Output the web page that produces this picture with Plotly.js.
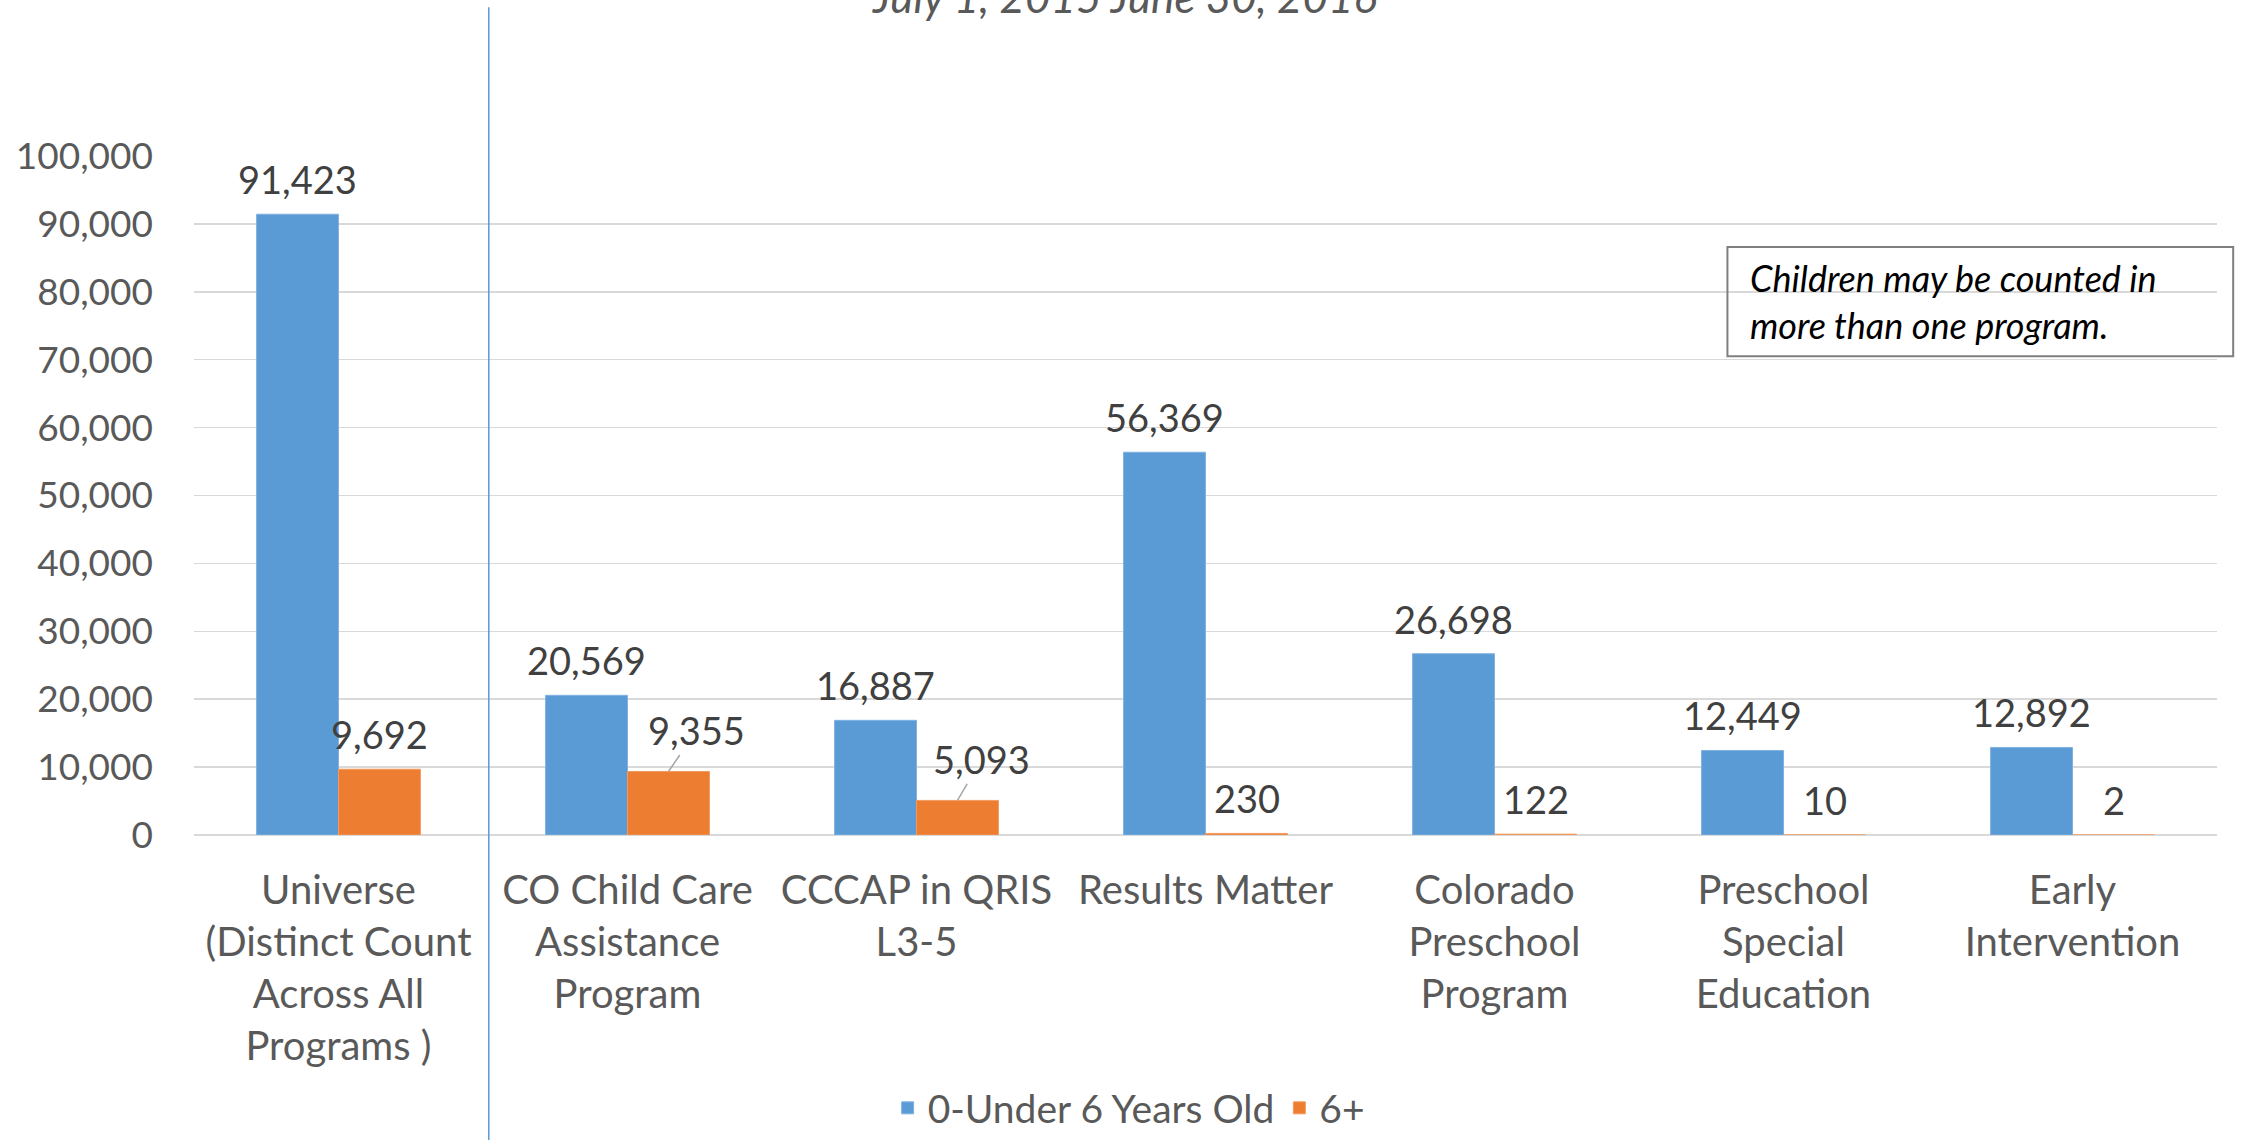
<!DOCTYPE html>
<html>
<head>
<meta charset="utf-8">
<script src="https://cdn.plot.ly/plotly-3.0.1.min.js"></script>
<style>html,body{margin:0;padding:0;background:#fff;}#chart{width:2249px;height:1140px;}</style>
</head>
<body>
<div id="chart"></div>
<script>
// ---- data ----
const categories = [
  "Universe<br>(Distinct Count<br>Across All<br>Programs )",
  "CO Child Care<br>Assistance<br>Program",
  "CCCAP in QRIS<br>L3-5",
  "Results Matter",
  "Colorado<br>Preschool<br>Program",
  "Preschool<br>Special<br>Education",
  "Early<br>Intervention"
];
const under6 = [91423, 20569, 16887, 56369, 26698, 12449, 12892];
const over6 = [9692, 9355, 5093, 230, 122, 10, 2];
const seriesNames = ["0-Under 6 Years Old", "6+"];
const titleText = "July 1, 2015 June 30, 2016";
const noteText = "Children may be counted in<br>more than one program.";
const yTicks = [0, 10000, 20000, 30000, 40000, 50000, 60000, 70000, 80000, 90000, 100000];

// ---- style ----
const FONT = "Lato, 'Open Sans', sans-serif";
const BLUE = "#5B9BD5", ORANGE = "#ED7D31";
const GRAY = "#595959", DARK = "#404040";
const BAR_HALF = 41;     // px offset from category centre to each bar centre
const LABEL_UP = 35;     // px from bar top to label centre
const leader = {1: [28, -41], 2: [24, -41]}; // labels pulled aside with a leader line

const traces = [
  {type: "bar", name: seriesNames[0], x: categories, y: under6,
   marker: {color: BLUE, line: {color: "#7fb2e0", width: 1}}, hoverinfo: "y"},
  {type: "bar", name: seriesNames[1], x: categories, y: over6,
   marker: {color: ORANGE, line: {color: "#f39a5e", width: 1}}, hoverinfo: "y"}
];

const fmt = v => v.toLocaleString("en-US");
const annotations = [];
categories.forEach((c, i) => {
  annotations.push({x: c, y: under6[i], xref: "x", yref: "y", text: fmt(under6[i]),
    showarrow: false, xshift: -BAR_HALF, yshift: LABEL_UP, yanchor: "middle",
    font: {family: FONT, size: 38, color: DARK}});
  if (leader[i]) {
    annotations.push({x: c, y: over6[i], xref: "x", yref: "y", text: fmt(over6[i]),
      showarrow: true, arrowhead: 0, arrowwidth: 1.5, arrowcolor: "#a6a6a6", standoff: 0,
      ax: leader[i][0], ay: leader[i][1], xshift: BAR_HALF,
      font: {family: FONT, size: 38, color: DARK}});
  } else {
    annotations.push({x: c, y: over6[i], xref: "x", yref: "y", text: fmt(over6[i]),
      showarrow: false, xshift: BAR_HALF, yshift: LABEL_UP, yanchor: "middle",
      font: {family: FONT, size: 38, color: DARK}});
  }
});
annotations.push({xref: "paper", yref: "paper", x: 0.46, y: 1.235, xanchor: "center", yanchor: "middle",
  text: "<i>" + titleText + "</i>", showarrow: false, font: {family: FONT, size: 44, color: GRAY}});
annotations.push({xref: "paper", yref: "paper", x: 0.768, y: 0.786, xanchor: "left", yanchor: "middle",
  align: "left", text: "<i>" + noteText + "</i>", showarrow: false,
  font: {family: FONT, size: 36, color: "#000000"}});

const layout = {
  width: 2249, height: 1140,
  margin: {l: 194, r: 32, t: 156, b: 305, pad: 0},
  paper_bgcolor: "#ffffff", plot_bgcolor: "#ffffff",
  barmode: "group", bargap: 0.433, bargroupgap: 0,
  font: {family: FONT, color: GRAY},
  xaxis: {type: "category", showgrid: false, showline: false, ticks: "",
    tickfont: {family: FONT, size: 40, color: GRAY}, ticklabelstandoff: 28, automargin: false},
  yaxis: {range: [0, 100000], tickvals: yTicks, tickformat: ",d", showline: false,
    gridcolor: "#d9d9d9", gridwidth: 1.5, zeroline: true, zerolinecolor: "#d9d9d9", zerolinewidth: 1.5,
    tickfont: {family: FONT, size: 37, color: GRAY}, ticklabelstandoff: 40, automargin: false},
  legend: {orientation: "h", x: 0.462, xanchor: "center", xref: "paper",
    yref: "container", y: -0.011, yanchor: "bottom",
    font: {family: FONT, size: 39, color: GRAY}, traceorder: "normal"},
  showlegend: true,
  annotations: annotations,
  shapes: [
    {type: "line", xref: "x", yref: "paper", x0: 0.52, x1: 0.52, y0: -0.47, y1: 1.219,
     line: {color: BLUE, width: 1.5}},
    {type: "rect", xref: "paper", yref: "paper", x0: 0.758, x1: 1.008, y0: 0.705, y1: 0.866,
     line: {color: "#7f7f7f", width: 2}, fillcolor: "rgba(0,0,0,0)"}
  ]
};

Plotly.newPlot("chart", traces, layout, {displayModeBar: false, staticPlot: true});
</script>
</body>
</html>
